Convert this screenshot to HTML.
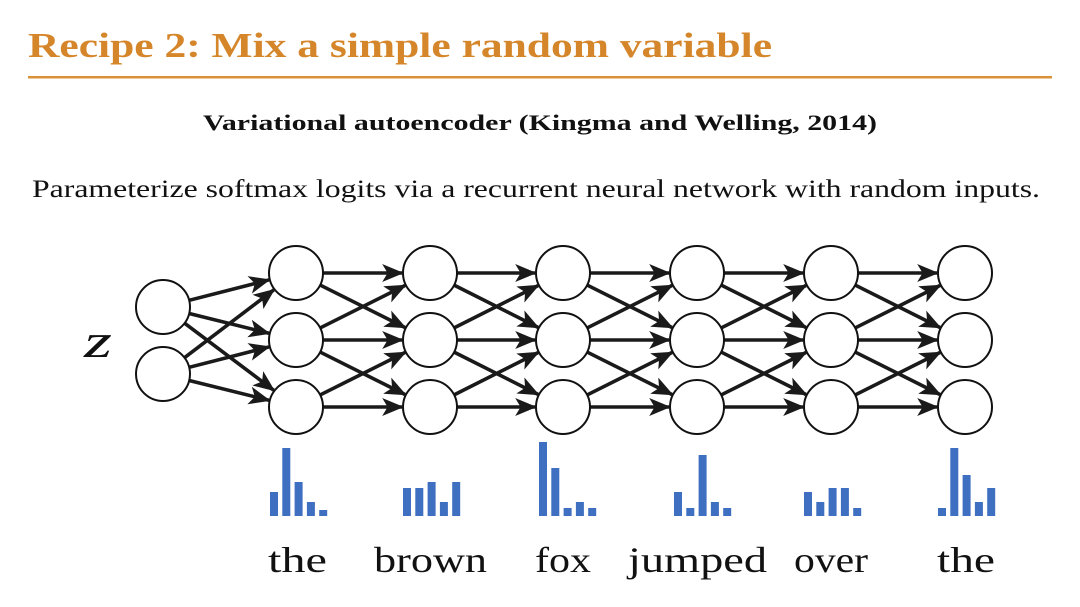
<!DOCTYPE html>
<html><head><meta charset="utf-8"><style>
html,body{margin:0;padding:0;background:#fff;width:1080px;height:607px;overflow:hidden}
text{font-family:"Liberation Serif",serif}
</style></head><body>
<svg id="s" width="1080" height="607" viewBox="0 0 1080 607" xmlns="http://www.w3.org/2000/svg">
<defs><marker id="a" markerWidth="6" markerHeight="5" refX="5.5" refY="2.5" orient="auto" markerUnits="strokeWidth"><path d="M0,0 L6,2.5 L0,5 L1.5,2.5 Z" fill="#1a1a1a"/></marker></defs>
<text x="28" y="57" font-size="35" font-weight="bold" fill="#d5862a" textLength="744" lengthAdjust="spacingAndGlyphs">Recipe 2: Mix a simple random variable</text>
<rect x="28" y="76" width="1024" height="2.5" fill="#d9923a"/>
<text x="203" y="130" font-size="22" font-weight="bold" fill="#111" textLength="674" lengthAdjust="spacingAndGlyphs">Variational autoencoder (Kingma and Welling, 2014)</text>
<text x="32" y="197" font-size="25" fill="#111" textLength="1008" lengthAdjust="spacingAndGlyphs">Parameterize softmax logits via a recurrent neural network with random inputs.</text>
<text x="84" y="357" font-size="48" font-style="italic" fill="#111" textLength="28" lengthAdjust="spacingAndGlyphs">z</text>
<g font-size="36" fill="#111">
<text x="268" y="572" textLength="59" lengthAdjust="spacingAndGlyphs">the</text>
<text x="374" y="572" textLength="113" lengthAdjust="spacingAndGlyphs">brown</text>
<text x="535" y="572" textLength="56" lengthAdjust="spacingAndGlyphs">fox</text>
<text x="628" y="572" textLength="139" lengthAdjust="spacingAndGlyphs">jumped</text>
<text x="794" y="572" textLength="74" lengthAdjust="spacingAndGlyphs">over</text>
<text x="937" y="572" textLength="58" lengthAdjust="spacingAndGlyphs">the</text>
</g>
<g id="net"></g>
<g id="bars" fill="#3f6fc0"></g>
</svg>
<script>
var ns="http://www.w3.org/2000/svg",net=document.getElementById('net'),bars=document.getElementById('bars');
function el(t,a,p){var e=document.createElementNS(ns,t);for(var k in a)e.setAttribute(k,a[k]);p.appendChild(e);return e;}
var r=27,cols=[296,430,563,697,831,965],rows=[273,340,407];
var layers=[[[163,307],[163,374]]];
cols.forEach(function(x){layers.push(rows.map(function(y){return[x,y]}))});
function edge(a,b){
var dx=b[0]-a[0],dy=b[1]-a[1],d=Math.hypot(dx,dy),ux=dx/d,uy=dy/d;
el('line',{x1:a[0]+ux*r,y1:a[1]+uy*r,x2:b[0]-ux*(r+1),y2:b[1]-uy*(r+1),stroke:'#1a1a1a','stroke-width':3.6,'marker-end':'url(#a)'},net);}
layers[0].forEach(function(a){layers[1].forEach(function(b){edge(a,b)})});
for(var i=1;i<layers.length-1;i++)for(var p=0;p<3;p++)for(var q=0;q<3;q++)if(Math.abs(p-q)<=1)edge(layers[i][p],layers[i+1][q]);
layers.forEach(function(L){L.forEach(function(c){el('circle',{cx:c[0],cy:c[1],r:r,fill:'#fff',stroke:'#111','stroke-width':2},net)})});
var gx=[270,403,539,674,804,938],tops=[[492,448,482,502,510],[488,488,482,502,482],[442,468,508,502,508],[492,508,455,502,508],[492,502,488,488,508],[508,448,475,502,488]];
gx.forEach(function(x,g){tops[g].forEach(function(t,k){el('rect',{x:x+k*12.3,y:t,width:8,height:516-t},bars)})});
</script>
</body></html>
